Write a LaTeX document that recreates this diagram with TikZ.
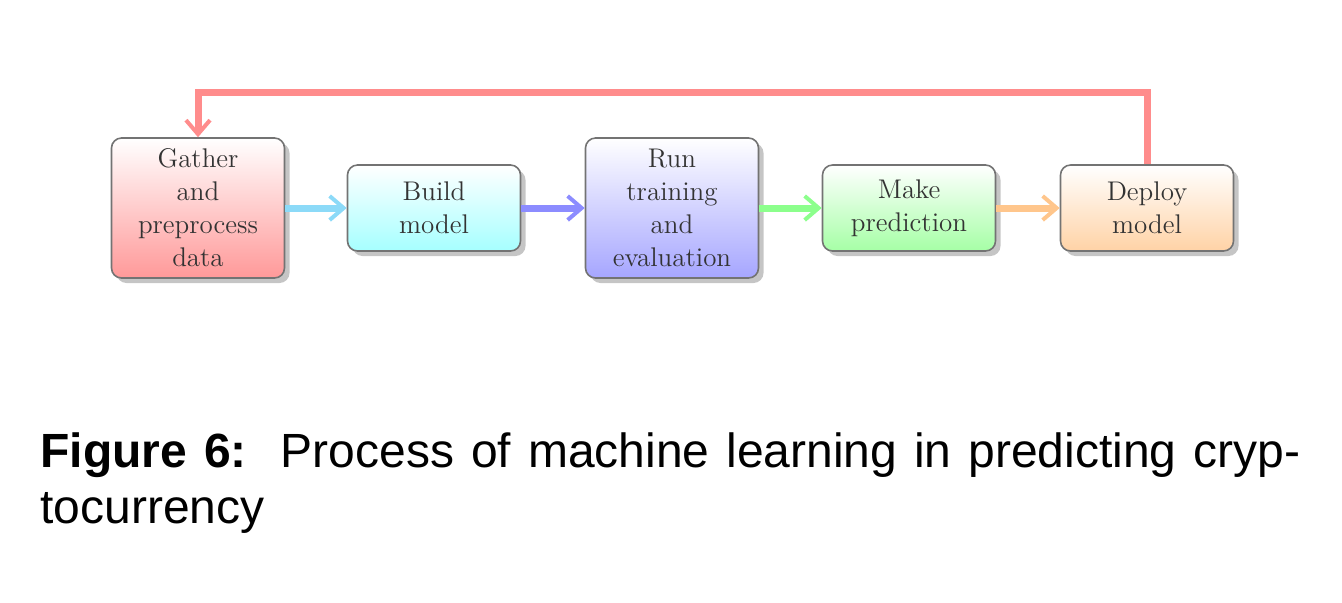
\documentclass[tikz,border=0pt]{standalone}
\usepackage{fontspec}
\newfontfamily\capfont{Liberation Sans}
\usetikzlibrary{shadows,arrows.meta}
\begin{document}
\begin{tikzpicture}[x=0.5pt,y=-0.5pt,
  box/.style={draw=black!55,line width=0.8pt,rounded corners=5pt,minimum width=86.5pt,
    align=center,font=\fontsize{13.5}{16.5}\selectfont,text=black!80,
    top color=white,drop shadow={shadow xshift=2.5pt,shadow yshift=-2.5pt,fill=black!45}},
  tall/.style={box,minimum height=70pt},
  short/.style={box,minimum height=43pt},
  conn/.style={line width=3.5pt,-{Straight Barb[length=7pt,width=12pt,line width=2pt]}}]
\useasboundingbox (0,0) rectangle (1342,602);
\node[tall,bottom color=red!40] (g) at (198,208) {Gather\\and\\preprocess\\data};
\node[short,bottom color=cyan!35] (b) at (434,208) {Build\\model};
\node[tall,bottom color=blue!35] (r) at (672,208) {Run\\training\\and\\evaluation};
\node[short,bottom color=green!35] (m) at (909,208) {Make\\prediction};
\node[short,bottom color=orange!35] (d) at (1147,208) {Deploy\\model};
\coordinate (c1) at (1147,92);
\coordinate (c2) at (198,92);
\draw[conn,cyan!45] (g) -- (b);
\draw[conn,blue!45] (b) -- (r);
\draw[conn,green!45] (r) -- (m);
\draw[conn,orange!45] (m) -- (d);
\draw[conn,red!45] (d.north) -- (c1) -- (c2) -- (g.north);
\node[anchor=north west,inner sep=0pt,text width=630pt,align=justify,
  font=\capfont\fontsize{24}{28}\selectfont] (cap) at (40,432)
  {\textbf{Figure 6:}\ \ Process of machine learning in predicting cryp-\linebreak tocurrency};
\end{tikzpicture}
\end{document}
